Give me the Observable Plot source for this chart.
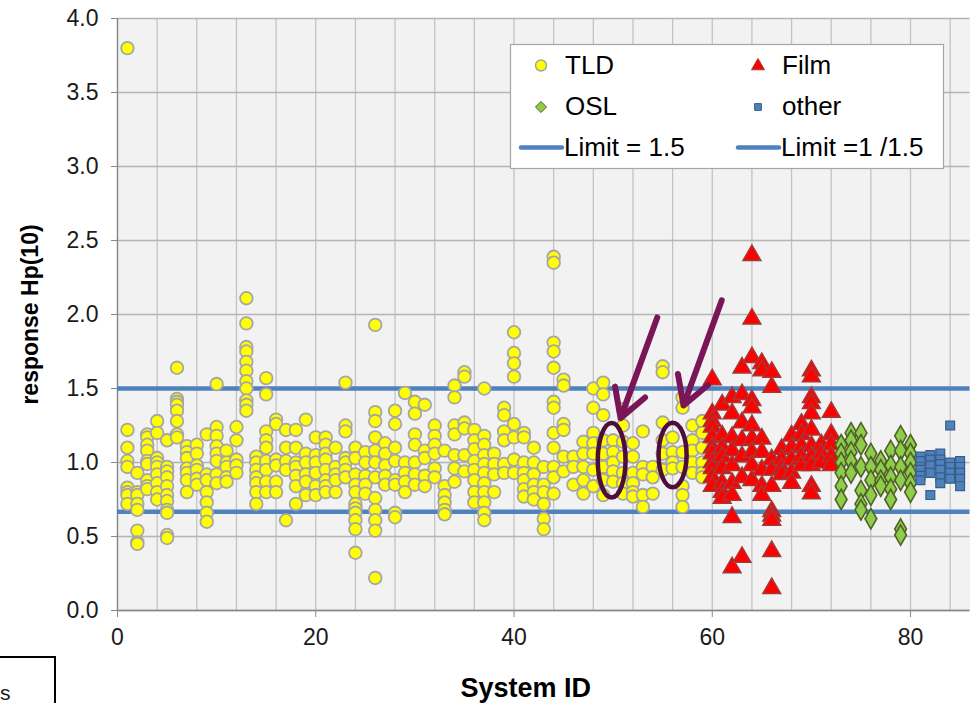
<!DOCTYPE html>
<html><head><meta charset="utf-8">
<script src="https://cdn.jsdelivr.net/npm/d3@7"></script>
<script src="https://cdn.jsdelivr.net/npm/@observablehq/plot@0.6"></script>
<style>
html,body{margin:0;padding:0;background:#fff;}
#chart{width:972px;height:703px;overflow:hidden;position:relative;}
g[aria-label^="x-axis"] line, g[aria-label^="x-axis"] path,
g[aria-label^="y-axis"] line, g[aria-label^="y-axis"] path {stroke:#868686;}
</style></head><body><div id="chart"></div>
<script>
// ---------- data ----------
const tldSystems = [1,2,3,4,5,6,7,8,9,10,11,12,13,14,15,16,17,18,19,20,21,22,23,24,25,26,27,28,29,30,31,32,33,34,35,36,37,38,39,40,41,42,43,44,45,46,47,48,49,50,51,52,53,54,55,56,57,58,59];
const tldResponses = [
  [3.80,1.22,1.10,1.01,0.97,0.83,0.80,0.78,0.72],
  [0.93,0.80,0.78,0.72,0.68,0.54,0.46,0.45],
  [1.19,1.17,1.12,1.08,1.01,0.99,0.88,0.84,0.82],
  [1.28,1.20,1.03,1.00,0.97,0.92,0.86,0.80,0.75],
  [1.15,0.97,0.94,0.90,0.84,0.78,0.74,0.68,0.66,0.51,0.49],
  [1.64,1.43,1.41,1.39,1.35,1.28,1.19,1.17],
  [1.11,1.07,1.03,0.96,0.93,0.88,0.80],
  [1.12,1.06,0.98,0.95,0.89,0.85],
  [1.19,0.92,0.88,0.80,0.73,0.66,0.60],
  [1.53,1.24,1.18,1.11,1.06,1.01,0.92,0.86],
  [1.08,1.00,0.97,0.90,0.87],
  [1.24,1.15,1.02,0.98,0.93],
  [2.11,1.94,1.78,1.75,1.68,1.62,1.55,1.50,1.42,1.39,1.35],
  [1.04,1.00,0.95,0.90,0.86,0.80,0.72],
  [1.57,1.46,1.21,1.15,1.10,1.01,0.95,0.87,0.80],
  [1.29,1.26,1.02,0.98,0.87,0.80],
  [1.22,1.10,1.01,0.95,0.61],
  [1.22,1.10,1.00,0.97,0.91,0.84,0.72],
  [1.29,1.06,1.00,0.92,0.87,0.78],
  [1.17,1.05,1.00,0.93,0.84,0.78],
  [1.17,1.12,1.06,1.02,0.95,0.88,0.84,0.80],
  [1.10,0.97,0.92,0.88,0.80],
  [1.54,1.25,1.21,1.03,1.00,0.95,0.90],
  [1.10,1.03,0.92,0.85,0.80,0.72,0.69,0.66,0.61,0.55,0.39],
  [1.07,1.00,0.91,0.85,0.79],
  [1.93,1.34,1.28,1.17,1.08,1.00,0.90,0.76,0.68,0.61,0.54,0.22],
  [1.13,1.06,0.98,0.91,0.85],
  [1.35,1.26,1.10,1.01,0.88,0.85,0.66,0.63],
  [1.47,1.00,0.93,0.87,0.80],
  [1.41,1.33,1.19,1.12,1.00,0.92,0.85],
  [1.39,1.08,1.03,0.91,0.84],
  [1.25,1.18,1.12,1.06,0.96,0.90],
  [1.08,0.84,0.78,0.73,0.68,0.65],
  [1.52,1.44,1.25,1.19,1.05,0.96,0.87],
  [1.61,1.58,1.27,1.23,1.05,0.94],
  [1.22,1.15,1.09,1.01,0.95,0.88,0.80,0.73],
  [1.50,1.18,1.12,1.05,0.99,0.93,0.86,0.80,0.73,0.66,0.61],
  [1.06,0.99,0.92,0.80],
  [1.37,1.32,1.21,1.15,0.99,0.93],
  [1.88,1.74,1.67,1.58,1.26,1.17,1.02,0.93],
  [1.20,1.17,1.00,0.93,0.88,0.82,0.77],
  [1.10,1.00,0.92,0.85,0.80,0.75],
  [0.97,0.85,0.80,0.72,0.62,0.55],
  [2.39,2.35,1.81,1.75,1.64,1.41,1.37,1.20,1.10,0.97,0.90,0.79],
  [1.56,1.52,1.26,1.22,1.04,0.94],
  [1.04,0.97,0.85],
  [1.14,1.06,0.97,0.88,0.79],
  [1.50,1.37,1.20,1.13,1.06,0.95,0.84],
  [1.54,1.46,1.32,1.15,1.06,0.97,0.88,0.78],
  [1.15,1.07,1.00,0.94,0.87],
  [1.36,1.25,1.14,1.04,0.93,0.86,0.79],
  [1.13,1.04,0.93,0.86,0.80,0.77],
  [1.21,0.97,0.92,0.78,0.70],
  [0.97,0.90,0.79],
  [1.65,1.61,1.27,1.15,1.06,0.95],
  [1.17,1.07,1.00,0.96],
  [1.44,1.37,1.07,0.97,0.84,0.78,0.70],
  [1.25,1.15,1.08,1.00,0.93],
  [1.28,1.20,1.10,1.00,0.93,0.90]
];
const filmSystems = [60,61,62,63,64,65,66,67,68,69,70,71,72];
const filmResponses = [
  [1.56,1.33,1.28,1.24,1.17,1.10,1.06,1.00,0.96,0.90,0.84],
  [1.39,1.18,1.10,1.04,0.96,0.86,0.80,0.76],
  [1.44,1.33,1.17,1.08,0.98,0.86,0.78,0.63,0.29],
  [1.64,1.46,1.27,1.15,1.04,0.90,0.36],
  [2.40,1.97,1.71,1.42,1.37,1.25,1.16,1.07,0.98,0.88],
  [1.67,1.62,1.16,1.07,0.95,0.84,0.78],
  [1.61,1.51,1.02,0.95,0.84,0.67,0.64,0.61,0.40,0.15],
  [1.09,1.02,0.96,0.92],
  [1.18,1.10,1.02,0.93,0.86],
  [1.26,1.19,1.11,1.04,0.98],
  [1.62,1.58,1.44,1.40,1.33,1.22,1.11,1.04,0.98,0.84,0.79],
  [1.12,1.06,1.00],
  [1.34,1.19,1.12,1.04,0.98]
];
const oslSystems = [73,74,75,76,77,78,79,80];
const oslResponses = [
  [1.12,1.06,1.00,0.93,0.84,0.75],
  [1.20,1.15,1.07,1.01,0.93],
  [1.20,1.12,0.97,0.81,0.72,0.68],
  [1.06,0.97,0.88,0.78,0.62],
  [1.01,0.95,0.88,0.84],
  [1.08,0.98,0.90,0.82,0.75],
  [1.18,1.08,0.97,0.88,0.55,0.51],
  [1.12,1.06,1.00,0.93,0.86,0.80]
];
const otherSystems = [81,82,83,84,85];
const otherResponses = [
  [1.04,1.01,0.97,0.95,0.91,0.88],
  [1.05,1.02,0.98,0.93,0.78],
  [1.06,1.02,0.99,0.95,0.90,0.86],
  [1.25,1.00,0.97,0.93,0.89],
  [1.01,0.97,0.93,0.89,0.84]
];
const limitValues = [1.5, 1/1.5];
const xTicks = [0,20,40,60,80];
const xGrid = [0,4,8,12,16,20,24,28,32,36,40,44,48,52,56,60,64,68,72,76,80,84];
const yTicks = [0,0.5,1,1.5,2,2.5,3,3.5,4];
const legendLabels = ["TLD","Film","OSL","other","Limit = 1.5","Limit =1 /1.5"];
const arrowData = [
  {x1:54.45, y1:1.98, x2:50.75, y2:1.30},
  {x1:60.95, y1:2.095, x2:57.1, y2:1.385}
];
const ellipseData = [
  {x:49.9, y:1.012, rx:1.40, ry:0.252},
  {x:56.05, y:1.047, rx:1.41, ry:0.218}
];

function flatten(systems, responses) {
  const out = [];
  systems.forEach((s, i) => responses[i].forEach(v => out.push({system: s, response: v})));
  return out;
}
const tld = flatten(tldSystems, tldResponses);
const film = flatten(filmSystems, filmResponses);
const osl = flatten(oslSystems, oslResponses);
const other = flatten(otherSystems, otherResponses);

function ellipseMark(index, scales) {
  const g = d3.create("svg:g");
  for (const e of ellipseData) {
    const cx = scales.x(e.x), cy = scales.y(e.y);
    const rx = Math.abs(scales.x(e.x + e.rx) - cx), ry = Math.abs(scales.y(e.y + e.ry) - cy);
    g.append("ellipse").attr("cx", cx).attr("cy", cy).attr("rx", rx).attr("ry", ry)
      .attr("fill", "none").attr("stroke", "#4e0e3b").attr("stroke-width", 4.5);
  }
  return g.node();
}

const font = "'Liberation Sans', Arial, sans-serif";
const plot = Plot.plot({
  width: 972, height: 703,
  marginLeft: 117, marginRight: 2.5, marginTop: 18, marginBottom: 93,
  style: {fontFamily: font, fontSize: "23px", color: "#1a1a1a", background: "#fff"},
  x: {domain: [0, 86], ticks: xTicks, tickSize: 7, tickPadding: 11, label: null, tickFormat: d => String(d)},
  y: {domain: [0, 4], ticks: yTicks, tickSize: 6, tickPadding: 13, label: null, tickFormat: d3.format(".1f")},
  marks: [
    Plot.frame({fill: "#f2f2f2", stroke: null}),
    Plot.ruleX(xGrid, {stroke: "#c3c3c3", strokeWidth: 1.3}),
    Plot.ruleY(yTicks, {stroke: "#b4b4b4", strokeWidth: 1.3}),
    Plot.ruleX([0], {stroke: "#868686", strokeWidth: 1.3}),
    Plot.ruleY([0], {stroke: "#868686", strokeWidth: 1.3}),
    Plot.ruleY(limitValues, {stroke: "#4f81bd", strokeWidth: 4.5}),
    Plot.dot(tld, {x: "system", y: "response", r: 6.3, fill: "#ffff00", stroke: "#a6a6a6", strokeWidth: 1.8}),
    Plot.dot(film, {x: "system", y: "response", symbol: "triangle", r: 6.6, fill: "#ff0000", stroke: "#a33838", strokeWidth: 1.5}),
    Plot.dot(osl, {x: "system", y: "response", symbol: "diamond", r: 6.2, fill: "#8fcc4a", stroke: "#4f6228", strokeWidth: 1.6}),
    Plot.dot(other, {x: "system", y: "response", symbol: "square", r: 5, fill: "#4f81bd", stroke: "#385d8a", strokeWidth: 1.2}),
    Plot.arrow(arrowData, {x1: "x1", y1: "y1", x2: "x2", y2: "y2", stroke: "#7a1658", strokeWidth: 6, headLength: 8}),
    ellipseMark,
    Plot.text(["response Hp(10)"], {frameAnchor: "left", dx: -87, rotate: -90, textAnchor: "middle", lineAnchor: "middle", fontWeight: "bold", fontSize: 23, fill: "#000"}),
    Plot.text(["System ID"], {frameAnchor: "bottom", dx: -18, dy: 78, textAnchor: "middle", lineAnchor: "middle", fontWeight: "bold", fontSize: 27, fill: "#000"})
  ]
});
document.getElementById("chart").appendChild(plot);

// ---------- legend ----------
const svg = d3.select(plot);
const lg = svg.append("g").attr("font-family", font).attr("font-size", 26).attr("fill", "#000").attr("text-anchor", "start");
lg.append("rect").attr("x", 510.5).attr("y", 44.5).attr("width", 433).attr("height", 124)
  .attr("fill", "#fff").attr("stroke", "#a6a6a6").attr("stroke-width", 1.2);
const sym = (type, r) => d3.symbol(type, Math.PI * r * r)();
const triangle = d3.symbolTriangle2 || d3.symbolTriangle;
const diamond = d3.symbolDiamond2 || d3.symbolDiamond;
const square = d3.symbolSquare2 || d3.symbolSquare;
lg.append("path").attr("d", sym(d3.symbolCircle, 5.5)).attr("transform", "translate(541,65.5)")
  .attr("fill", "#ffff00").attr("stroke", "#a6a6a6").attr("stroke-width", 1.5);
lg.append("path").attr("d", sym(triangle, 6.2)).attr("transform", "translate(758,66)")
  .attr("fill", "#ff0000").attr("stroke", "#a33838").attr("stroke-width", 1);
lg.append("path").attr("d", sym(diamond, 5)).attr("transform", "translate(541,107)")
  .attr("fill", "#8fcc4a").attr("stroke", "#4f6228").attr("stroke-width", 1);
lg.append("path").attr("d", sym(square, 4.3)).attr("transform", "translate(758,107)")
  .attr("fill", "#4f81bd").attr("stroke", "#385d8a").attr("stroke-width", 1);
lg.append("line").attr("x1", 521).attr("x2", 562).attr("y1", 147.5).attr("y2", 147.5)
  .attr("stroke", "#4f81bd").attr("stroke-width", 4.5).attr("stroke-linecap", "round");
lg.append("line").attr("x1", 738).attr("x2", 779).attr("y1", 147.5).attr("y2", 147.5)
  .attr("stroke", "#4f81bd").attr("stroke-width", 4.5).attr("stroke-linecap", "round");
const lpos = [[565,74],[782,74],[565,114.5],[782,114.5],[564,156],[781,156]];
legendLabels.forEach((t, i) => lg.append("text").attr("x", lpos[i][0]).attr("y", lpos[i][1]).text(t));

// ---------- cropped box at bottom-left ----------
const bx = svg.append("g").attr("text-anchor", "start");
bx.append("rect").attr("x", -5).attr("y", 657).attr("width", 60).attr("height", 60)
  .attr("fill", "#fff").attr("stroke", "#000").attr("stroke-width", 2);
bx.append("text").attr("x", 0).attr("y", 700).attr("font-family", font).attr("font-size", 21).text("s");
</script></body></html>
